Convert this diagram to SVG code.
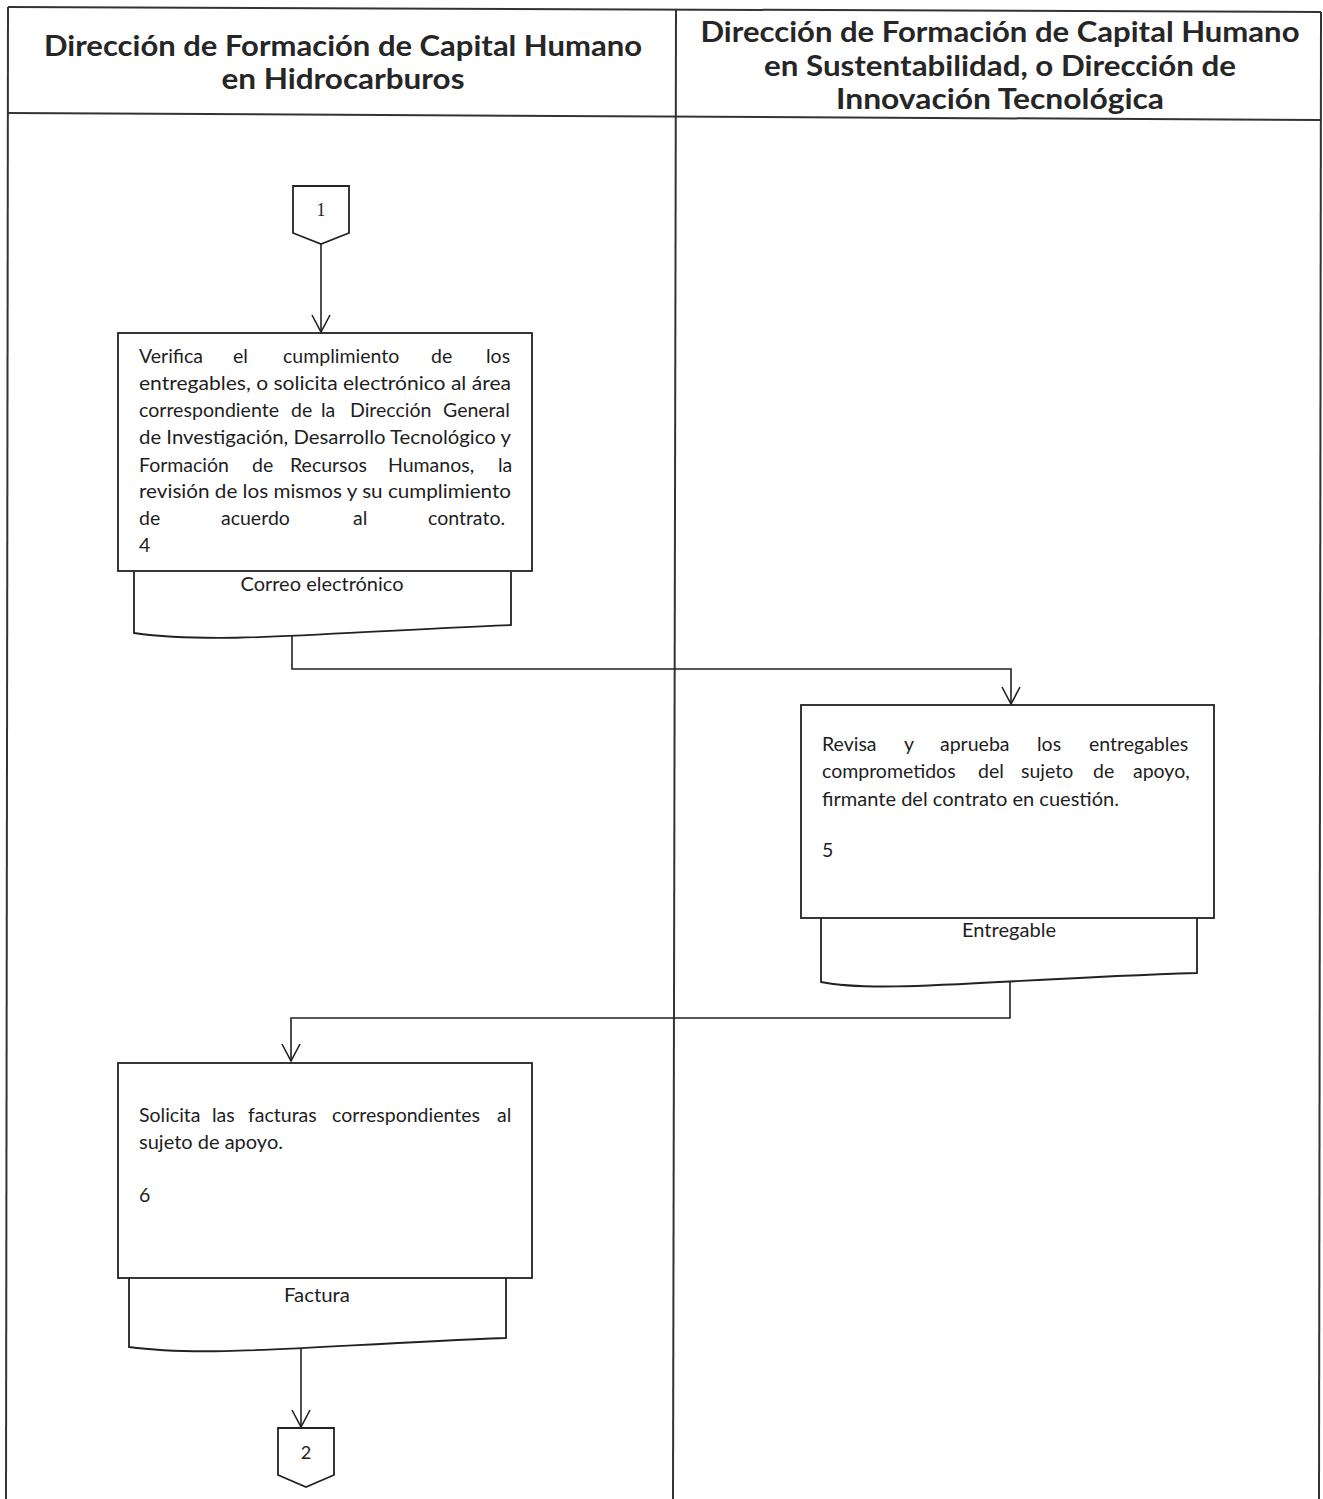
<svg xmlns="http://www.w3.org/2000/svg" width="1323" height="1499" viewBox="0 0 1323 1499">
<style>
.frame{fill:none;stroke:#333;stroke-width:2}
.shape{fill:#fff;stroke:#222;stroke-width:1.8}
.conn{fill:none;stroke:#222;stroke-width:1.6}
.hd{font-family:Lato,"Liberation Sans",sans-serif;font-weight:bold;font-size:29px;fill:#262626;text-anchor:middle}
.tx{font-family:Lato,"Liberation Sans",sans-serif;font-size:19.5px;fill:#1e1e1e}
.lb{font-family:Lato,"Liberation Sans",sans-serif;font-size:19.5px;fill:#1e1e1e;text-anchor:middle}
.num{font-family:"Liberation Serif",serif;font-size:18px;fill:#222;text-anchor:middle}
</style>
<defs>
<marker id="arr" viewBox="-20 -11 22 22" refX="0" refY="0" markerWidth="22" markerHeight="22" markerUnits="userSpaceOnUse" orient="auto">
<path d="M-17,-9 L0,0 L-17,9" fill="none" stroke="#222" stroke-width="1.6"/>
</marker>
</defs>
<rect width="1323" height="1499" fill="#fff"/>

<g id="table">
<line class="frame" x1="8" y1="7" x2="1321" y2="12"/>
<line class="frame" x1="8" y1="113" x2="1321" y2="120"/>
<line class="frame" x1="8" y1="7" x2="6" y2="1499"/>
<line class="frame" x1="676" y1="9" x2="673" y2="1499"/>
<line class="frame" x1="1321" y1="12" x2="1319" y2="1499"/>
</g>

<g id="lane-headers">
<text class="hd" x="343" y="56" textLength="598" lengthAdjust="spacingAndGlyphs">Dirección de Formación de Capital Humano</text>
<text class="hd" x="343" y="89" textLength="243" lengthAdjust="spacingAndGlyphs">en Hidrocarburos</text>
<text class="hd" x="1000" y="42" textLength="599" lengthAdjust="spacingAndGlyphs">Dirección de Formación de Capital Humano</text>
<text class="hd" x="1000" y="76" textLength="472" lengthAdjust="spacingAndGlyphs">en Sustentabilidad, o Dirección de</text>
<text class="hd" x="1000" y="109" textLength="328" lengthAdjust="spacingAndGlyphs">Innovación Tecnológica</text>
</g>

<g id="connectors">
<line class="conn" x1="321" y1="244" x2="321" y2="332" marker-end="url(#arr)"/>
<polyline class="conn" points="292,636 292,669 1011,669 1011,704" marker-end="url(#arr)"/>
<polyline class="conn" points="1010,982 1010,1018 291,1018 291,1061" marker-end="url(#arr)"/>
<line class="conn" x1="301" y1="1349" x2="301" y2="1427" marker-end="url(#arr)"/>
</g>

<g id="connector-1">
<path class="shape" d="M293,186 H349 V233 L321,244 L293,233 Z"/>
<text class="num" x="321" y="216">1</text>
</g>

<g id="step-4">
<path class="shape" d="M134,572 V633 C220,645 330,632 511,625 V572"/>
<text class="lb" x="322" y="591" textLength="163" lengthAdjust="spacingAndGlyphs">Correo electrónico</text>
<rect class="shape" x="118" y="333" width="414" height="238"/>
<text class="tx" y="363"><tspan x="139">Verifica</tspan><tspan x="233">el</tspan><tspan x="283">cumplimiento</tspan><tspan x="431">de</tspan><tspan x="486">los</tspan></text>
<text class="tx" x="139" y="390" textLength="372" lengthAdjust="spacingAndGlyphs">entregables, o solicita electrónico al área</text>
<text class="tx" y="417"><tspan x="139" textLength="140" lengthAdjust="spacingAndGlyphs">correspondiente</tspan><tspan x="291">de</tspan><tspan x="321">la</tspan><tspan x="350">Dirección</tspan><tspan x="443">General</tspan></text>
<text class="tx" x="139" y="444" textLength="372" lengthAdjust="spacingAndGlyphs">de Investigación, Desarrollo Tecnológico y</text>
<text class="tx" y="472"><tspan x="139">Formación</tspan><tspan x="252">de</tspan><tspan x="290">Recursos</tspan><tspan x="388">Humanos,</tspan><tspan x="498">la</tspan></text>
<text class="tx" x="139" y="498" textLength="372" lengthAdjust="spacingAndGlyphs">revisión de los  mismos y su cumplimiento</text>
<text class="tx" y="525"><tspan x="139">de</tspan><tspan x="221">acuerdo</tspan><tspan x="353">al</tspan><tspan x="428">contrato.</tspan></text>
<text class="tx" x="139" y="552">4</text>
</g>

<g id="step-5">
<path class="shape" d="M821,918 V982 C880,994 1000,979 1197,973 V918"/>
<text class="lb" x="1009" y="937" textLength="94" lengthAdjust="spacingAndGlyphs">Entregable</text>
<rect class="shape" x="801" y="705" width="413" height="213"/>
<text class="tx" y="751"><tspan x="822">Revisa</tspan><tspan x="904">y</tspan><tspan x="940">aprueba</tspan><tspan x="1037">los</tspan><tspan x="1089">entregables</tspan></text>
<text class="tx" y="778"><tspan x="822">comprometidos</tspan><tspan x="978">del</tspan><tspan x="1021">sujeto</tspan><tspan x="1093">de</tspan><tspan x="1133">apoyo,</tspan></text>
<text class="tx" x="822" y="806" textLength="297" lengthAdjust="spacingAndGlyphs">firmante del contrato en cuestión.</text>
<text class="tx" x="822" y="857">5</text>
</g>

<g id="step-6">
<path class="shape" d="M129,1278 V1347 C210,1358 320,1345 506,1338 V1278"/>
<text class="lb" x="317" y="1302" textLength="66" lengthAdjust="spacingAndGlyphs">Factura</text>
<rect class="shape" x="118" y="1063" width="414" height="215"/>
<text class="tx" y="1122"><tspan x="139">Solicita</tspan><tspan x="212">las</tspan><tspan x="248">facturas</tspan><tspan x="332">correspondientes</tspan><tspan x="497">al</tspan></text>
<text class="tx" x="139" y="1149" textLength="144" lengthAdjust="spacingAndGlyphs">sujeto de apoyo.</text>
<text class="tx" x="139" y="1202">6</text>
</g>

<g id="connector-2">
<path class="shape" d="M278,1428 H334 V1475 L306,1487 L278,1475 Z"/>
<text class="num" x="306" y="1459" style="font-family:Lato,'Liberation Sans',sans-serif">2</text>
</g>
</svg>
